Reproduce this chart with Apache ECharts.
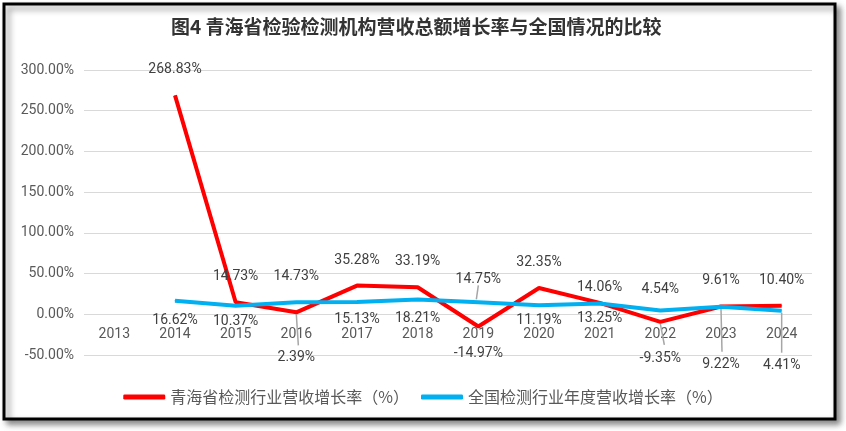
<!DOCTYPE html>
<html><head><meta charset="utf-8">
<script src="https://cdn.jsdelivr.net/npm/echarts@6/dist/echarts.min.js"></script>
<style>html,body{margin:0;padding:0;background:#fff}#c{width:846px;height:431px}</style>
</head><body><div id="c"></div>
<script>
var categories = ['2013','2014','2015','2016','2017','2018','2019','2020','2021','2022','2023','2024'];
var qinghai = [null, 268.83, 14.73, 2.39, 35.28, 33.19, -14.97, 32.35, 14.06, -9.35, 9.61, 10.40];
var national = [null, 16.62, 10.37, 14.73, 15.13, 18.21, 14.75, 11.19, 13.25, 4.54, 9.22, 4.41];
var yTicks = [-50, 0, 50, 100, 150, 200, 250, 300];
// label placement per point: [position, distance]
var qhLabel = [null,['top',18],['top',18],['bottom',38],['top',18],['top',18],['bottom',20],['top',18],['top',8],['bottom',29],['top',18],['top',18]];
var natLabel = [null,['bottom',12],['bottom',8],['top',18],['bottom',10],['bottom',12],['top',15],['bottom',8],['bottom',8],['top',14],['bottom',50],['bottom',47]];
// leader lines: [seriesName, categoryIndex, fromDy, toDy, dx]
var leaders = [['qh',3,2,33,2],['nat',6,-17,-3,-2],['qh',9,2,23,4],['nat',10,2,45,1],['nat',11,2,42,0]];

function build(vals, cfg){
  return vals.map(function(v,i){
    if(v===null) return null;
    var c = cfg[i];
    return {value: v, label: {position: c[0], distance: c[1]}};
  });
}
var leaderData = leaders.map(function(l){
  var v = (l[0]==='qh' ? qinghai : national)[l[1]];
  return [l[1], v, l[2], l[3], l[4]];
});
var gridTop = 70, gridBottom = 76, chartH = 431;
var plotH = chartH - gridTop - gridBottom;
var yMin = yTicks[0], yMax = yTicks[yTicks.length - 1];
var zeroOffset = -Math.round((0 - yMin) / (yMax - yMin) * plotH);

var chart = echarts.init(document.getElementById('c'));
var labelStyle = {show: true, color: '#404040', fontSize: 14, fontFamily: 'Roboto, "Noto Sans", sans-serif',
  formatter: function(p){ return p.value.toFixed(2) + '%'; }};
chart.setOption({
  animation: false,
  graphic: [{type:'rect', shape:{x:4,y:4,width:831,height:415}, z:-10,
    style:{fill:'#fff', stroke:'#000', lineWidth:3, shadowBlur:6, shadowOffsetX:4, shadowOffsetY:4, shadowColor:'rgba(0,0,0,0.45)'}}],
  title: {text: '图4 青海省检验检测机构营收总额增长率与全国情况的比较', left: 166, top: 12,
    textStyle: {fontSize: 19, fontWeight: 'bold', color: '#333', fontFamily: '"Noto Sans CJK SC", sans-serif'}},
  legend: {bottom: 21, left: 'center', itemWidth: 42, itemHeight: 5, itemGap: 12,
    icon: 'roundRect',
    textStyle: {fontSize: 16, color: '#595959', fontFamily: '"Noto Sans CJK SC", sans-serif'},
    data: ['青海省检测行业营收增长率（%）','全国检测行业年度营收增长率（%）']},
  grid: {left: 84, right: 34, top: gridTop, bottom: gridBottom},
  xAxis: {type: 'category', data: categories, boundaryGap: true, offset: zeroOffset,
    axisLine: {show: false, onZero: false}, axisTick: {show: false},
    axisLabel: {color: '#595959', fontSize: 14, margin: 13, fontFamily: 'Roboto, "Noto Sans", sans-serif'}},
  yAxis: {type: 'value', min: yMin, max: yMax, interval: 50,
    axisLine: {show: false}, axisTick: {show: false},
    splitLine: {lineStyle: {color: '#d9d9d9', width: 1}},
    axisLabel: {color: '#595959', fontSize: 14, margin: 10, fontFamily: 'Roboto, "Noto Sans", sans-serif',
      formatter: function(v){ return v.toFixed(2) + '%'; }}},
  series: [
    {name: 'leaders', type: 'custom', data: leaderData, z: 2, silent: true,
      renderItem: function(params, api){
        var p = api.coord([api.value(0), api.value(1)]);
        return {type: 'line', shape: {x1: p[0], y1: p[1] + api.value(2), x2: p[0] + api.value(4), y2: p[1] + api.value(3)},
          style: {stroke: '#a6a6a6', lineWidth: 1.5}};
      }},
    {name: '青海省检测行业营收增长率（%）', type: 'line', data: build(qinghai, qhLabel),
      symbol: 'circle', symbolSize: 1, showSymbol: true,
      lineStyle: {color: '#ff0000', width: 4}, itemStyle: {color: '#ff0000'},
      label: labelStyle, z: 3},
    {name: '全国检测行业年度营收增长率（%）', type: 'line', data: build(national, natLabel),
      symbol: 'circle', symbolSize: 1, showSymbol: true,
      lineStyle: {color: '#00b0f0', width: 4}, itemStyle: {color: '#00b0f0'},
      label: labelStyle, z: 4}
  ]
});
</script></body></html>
